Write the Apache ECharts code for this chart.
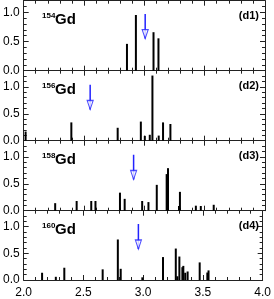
<!DOCTYPE html>
<html><head><meta charset="utf-8">
<script src="https://cdn.jsdelivr.net/npm/echarts@6/dist/echarts.min.js"></script>
<style>html,body{margin:0;padding:0;background:#fff}#c{width:274px;height:299px}</style>
</head><body><div id="c"></div>
<script>
// ---- data ----
const isotopes = ['154', '156', '158', '160'];
const panelTags = ['(d1)', '(d2)', '(d3)', '(d4)'];
const xTickLabels = ['2.0', '2.5', '3.0', '3.5', '4.0'];

const d1Energy = [2.856, 2.930, 3.076, 3.117];
const d1Strength = [0.46, 0.955, 0.66, 0.555];

const d2Energy = [2.016, 2.395, 2.779, 2.971, 3.004, 3.045, 3.067, 3.119, 3.155, 3.216];
const d2Strength = [0.17, 0.34, 0.24, 0.355, 0.09, 0.11, 1.21, 0.095, 0.34, 0.31];

const d3Energy = [2.261, 2.439, 2.560, 2.595, 2.798, 2.837, 2.982, 3.034, 3.103, 3.185, 3.196, 3.287, 3.295, 3.427, 3.468, 3.575];
const d3Strength = [0.14, 0.18, 0.18, 0.18, 0.335, 0.22, 0.18, 0.16, 0.48, 0.68, 0.79, 0.087, 0.35, 0.093, 0.087, 0.11];

const d4Energy = [2.154, 2.269, 2.340, 2.661, 2.788, 2.812, 2.993, 3.166, 3.273, 3.286, 3.303, 3.328, 3.336, 3.352, 3.372, 3.473, 3.537, 3.547];
const d4Strength = [0.136, 0.06, 0.23, 0.2, 0.76, 0.21, 0.05, 0.43, 0.59, 0.07, 0.44, 0.24, 0.265, 0.136, 0.16, 0.33, 0.14, 0.18];

const arrowX = [3.007, 2.551, 2.911, 2.960];
const arrowTop = [0.97, 1.04, 1.04, 1.05];
const arrowTip = [0.55, 0.58, 0.58, 0.58];

const yMax = [1.2, 1.3, 1.3, 1.3];

// ---- layout ----
const energies = [d1Energy, d2Energy, d3Energy, d4Energy];
const strengths = [d1Strength, d2Strength, d3Strength, d4Strength];
const FONT = 'Liberation Sans, Arial, Helvetica, sans-serif';
const AX = '#222';
const BLUE = '#2222ff';
const panelTop = [0.7, 70.7, 140.7, 210.7];
const panelH = 70;

const grid = [], xAxis = [], yAxis = [], series = [], title = [];
for (let i = 0; i < 4; i++) {
  grid.push({left: 22, right: 9, top: panelTop[i], height: panelH});
  const tick = {show: true, inside: true, length: 5, lineStyle: {color: AX, width: 1}};
  const minor = {show: true, splitNumber: 5, length: 3, lineStyle: {color: AX, width: 1}};
  xAxis.push({type: 'value', gridIndex: i, min: 2, max: 4, interval: 0.5, position: 'bottom',
    axisLine: {show: true, onZero: false, lineStyle: {color: AX, width: 1}},
    axisTick: tick, minorTick: minor, splitLine: {show: false},
    axisLabel: {show: i === 3, fontFamily: FONT, fontSize: 12, color: '#000', margin: 7,
      formatter: v => xTickLabels[Math.round((v - 2) / 0.5)]}});
  xAxis.push({type: 'value', gridIndex: i, min: 2, max: 4, interval: 0.5, position: 'top',
    axisLine: {show: true, onZero: false, lineStyle: {color: AX, width: 1}},
    axisTick: tick, minorTick: minor, splitLine: {show: false}, axisLabel: {show: false}});
  yAxis.push({type: 'value', gridIndex: i, min: 0, max: yMax[i], interval: 0.5, position: 'left',
    axisLine: {show: true, onZero: false, lineStyle: {color: AX, width: 1}},
    axisTick: tick, minorTick: minor, splitLine: {show: false},
    axisLabel: {fontFamily: FONT, fontSize: 12, color: '#000', margin: 4, showMaxLabel: false,
      formatter: v => v.toFixed(1)}});
  yAxis.push({type: 'value', gridIndex: i, min: 0, max: yMax[i], interval: 0.5, position: 'right',
    axisLine: {show: true, onZero: false, lineStyle: {color: AX, width: 1}},
    axisTick: tick, minorTick: minor, splitLine: {show: false}, axisLabel: {show: false}});

  series.push({type: 'bar', xAxisIndex: 2 * i, yAxisIndex: 2 * i, barWidth: 2,
    itemStyle: {color: '#000'}, silent: true,
    data: energies[i].map((e, k) => [e, strengths[i][k]])});
  series.push({type: 'line', xAxisIndex: 2 * i, yAxisIndex: 2 * i, symbol: 'none', silent: true,
    lineStyle: {color: BLUE, width: 1.5}, z: 5,
    data: [[arrowX[i], arrowTop[i]], [arrowX[i], arrowTip[i]]]});
  series.push({type: 'scatter', xAxisIndex: 2 * i, yAxisIndex: 2 * i, silent: true, z: 6,
    symbol: 'path://M0,0L10,0L5,16Z', symbolSize: [6, 9], symbolOffset: [0, -4.5],
    itemStyle: {color: '#fff', borderColor: BLUE, borderWidth: 1.2},
    data: [[arrowX[i], arrowTip[i]]]});

  title.push({text: isotopes[i], left: 42, top: panelTop[i] + 11, padding: 0,
    textStyle: {fontFamily: FONT, fontSize: 8, fontWeight: 'bold', color: '#000'}});
  title.push({text: 'Gd', left: 55, top: panelTop[i] + 12, padding: 0,
    textStyle: {fontFamily: FONT, fontSize: 15, fontWeight: 'bold', color: '#000'}});
  title.push({text: panelTags[i], right: 15, top: panelTop[i] + 10, padding: 0,
    textStyle: {fontFamily: FONT, fontSize: 11, fontWeight: 'bold', color: '#000'}});
}

const chart = echarts.init(document.getElementById('c'), null, {renderer: 'canvas'});
chart.setOption({animation: false, backgroundColor: '#fff', title, grid, xAxis, yAxis, series});
</script></body></html>
